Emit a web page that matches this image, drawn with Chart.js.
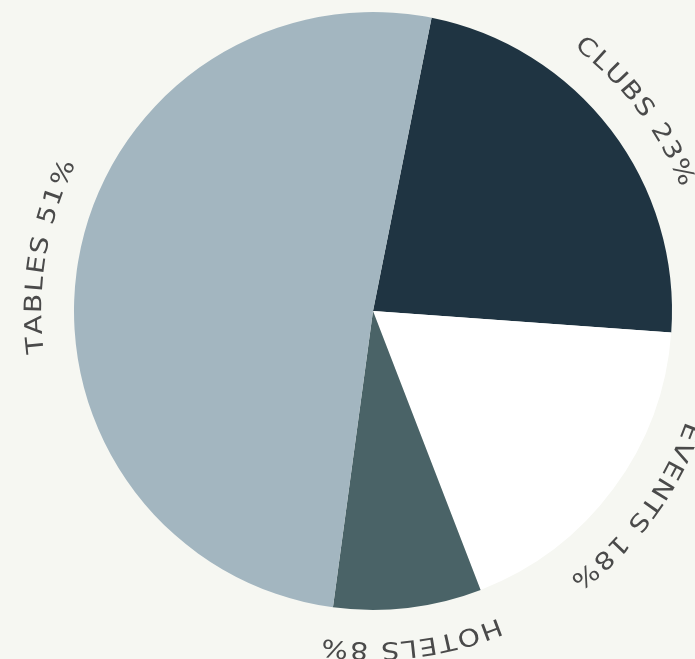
<!DOCTYPE html>
<html>
<head>
<meta charset="utf-8">
<script src="https://cdn.jsdelivr.net/npm/chart.js@4/dist/chart.umd.min.js"></script>
<style>
  html, body { margin: 0; padding: 0; background: #f6f7f2; }
  #wrap { width: 695px; height: 659px; }
</style>
</head>
<body>
<div id="wrap"><canvas id="c" width="695" height="659"></canvas></div>
<script>
const categories = ["CLUBS", "EVENTS", "HOTELS", "TABLES"];
const values = [23, 18, 8, 51];
const colors = ["#1f3442", "#ffffff", "#4a6367", "#a3b6c0"];

const curvedLabels = {
  id: 'curvedLabels',
  afterDraw(chart) {
    const ctx = chart.ctx;
    const meta = chart.getDatasetMeta(0);
    const font = '24px "DejaVu Sans"';
    const stretch = 1.18;
    const spacing = 2;
    meta.data.forEach((arc, i) => {
      const p = arc.getProps(['x', 'y', 'startAngle', 'endAngle', 'outerRadius'], true);
      const text = categories[i] + ' ' + values[i] + '%';
      const r = p.outerRadius + 39;
      const mid = (p.startAngle + p.endAngle) / 2;
      ctx.save();
      ctx.font = font;
      ctx.fillStyle = '#4a4a4a';
      ctx.textAlign = 'center';
      ctx.textBaseline = 'middle';
      const widths = [...text].map(ch => ctx.measureText(ch).width * stretch + spacing);
      const total = widths.reduce((a, b) => a + b, 0) - spacing;
      let ang = mid - (total / r) / 2;
      [...text].forEach((ch, k) => {
        const w = widths[k] - spacing;
        const a = ang + (w / 2) / r;
        ctx.save();
        ctx.translate(p.x + r * Math.cos(a), p.y + r * Math.sin(a));
        ctx.rotate(a + Math.PI / 2);
        ctx.scale(stretch, 1);
        ctx.fillText(ch, 0, 0);
        ctx.restore();
        ang += widths[k] / r;
      });
      ctx.restore();
    });
  }
};

new Chart(document.getElementById('c'), {
  type: 'pie',
  data: {
    labels: categories,
    datasets: [{
      data: values,
      backgroundColor: colors,
      borderWidth: 0
    }]
  },
  options: {
    responsive: false,
    animation: false,
    rotation: 11.3,
    layout: { padding: { left: 74, right: 23, top: 12, bottom: 49 } },
    plugins: { legend: { display: false }, tooltip: { enabled: false } }
  },
  plugins: [curvedLabels]
});
</script>
</body>
</html>
